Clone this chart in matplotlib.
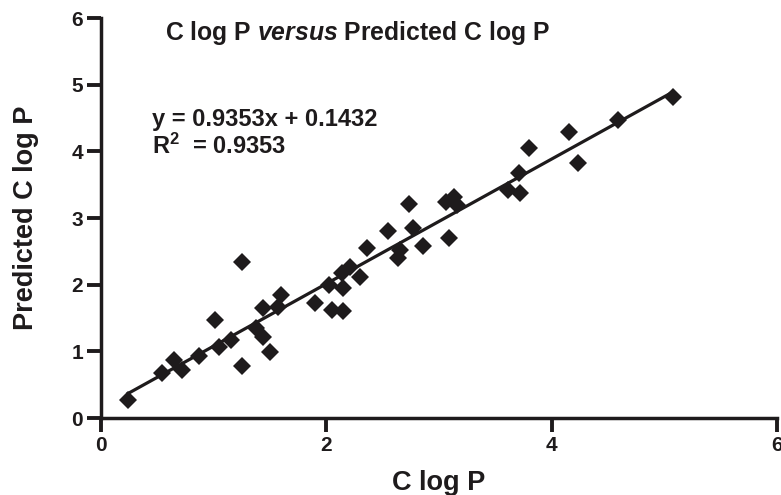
import matplotlib
matplotlib.use("Agg")
import matplotlib.pyplot as plt
import numpy as np

plt.rcParams['font.family'] = ['Liberation Sans', 'DejaVu Sans']
plt.rcParams['font.weight'] = 'bold'
plt.rcParams['mathtext.fontset'] = 'custom'
plt.rcParams['mathtext.rm'] = 'Liberation Sans:bold'
plt.rcParams['mathtext.it'] = 'Liberation Sans:italic:bold'
plt.rcParams['mathtext.bf'] = 'Liberation Sans:bold'

# Data
clogp = [0.24, 0.54, 0.65, 0.72, 0.87, 1.01, 1.05, 1.15, 1.25, 1.25,
         1.38, 1.44, 1.44, 1.50, 1.57, 1.60, 1.90, 2.02, 2.05, 2.14,
         2.15, 2.15, 2.21, 2.30, 2.36, 2.55, 2.64, 2.65, 2.73, 2.77,
         2.86, 3.06, 3.09, 3.13, 3.16, 3.61, 3.71, 3.72, 3.80, 4.15,
         4.23, 4.59, 5.08]
pred = [0.27, 0.67, 0.87, 0.72, 0.93, 1.47, 1.06, 1.17, 2.34, 0.78,
        1.35, 1.22, 1.65, 0.99, 1.67, 1.85, 1.72, 1.99, 1.62, 2.17,
        1.95, 1.60, 2.26, 2.11, 2.55, 2.80, 2.40, 2.52, 3.21, 2.85,
        2.58, 3.24, 2.70, 3.31, 3.19, 3.42, 3.67, 3.37, 4.05, 4.29,
        3.82, 4.47, 4.81]

slope = 0.9353
intercept = 0.1432
r2 = 0.9353

xticks = [0, 2, 4, 6]
xtick_labels = ['0', '2', '4', '6']
yticks = [0, 1, 2, 3, 4, 5, 6]
ytick_labels = ['0', '1', '2', '3', '4', '5', '6']

ink = '#1e1b1c'

fig = plt.figure(figsize=(7.81, 4.95), dpi=100)
W, H = 781, 495
x0, x1 = 101, 777
y0, y1 = 418, 18
ax = fig.add_axes([x0 / W, 1 - y0 / H, (x1 - x0) / W, (y0 - y1) / H])

ax.plot(clogp, pred, linestyle='none', marker='D', markersize=8.9,
        color=ink, markeredgewidth=0, zorder=3, clip_on=False)

xs = np.array([min(clogp), max(clogp)])
ax.plot(xs, slope * xs + intercept, color=ink, linewidth=2.3, zorder=2)

ax.set_xlim(0, 6)
ax.set_ylim(0, 6)
ax.set_xticks(xticks)
ax.set_xticklabels(xtick_labels, fontsize=15, fontweight='bold', color=ink)
ax.set_yticks(yticks)
ax.set_yticklabels(ytick_labels, fontsize=15, fontweight='bold', color=ink)
for s in ['top', 'right']:
    ax.spines[s].set_visible(False)
for s in ['left', 'bottom']:
    ax.spines[s].set_linewidth(2.5)
    ax.spines[s].set_color(ink)
ax.tick_params(axis='both', direction='out', length=10, width=2.8,
               color=ink, pad=3)

ax.set_xlabel('C log P', fontsize=19.5, fontweight='bold', color=ink, labelpad=11)
ax.set_ylabel('Predicted C log P', fontsize=19.5, fontweight='bold', color=ink, labelpad=23)

fig.text(165 / W, 1 - 33 / H, r'C log P $\it{versus}$ Predicted C log P',
         fontsize=17.8, fontweight='bold', color=ink, va='center', ha='left')

ax.text(0.45, 4.48, f'y = {slope}x + {intercept}', fontsize=17,
        fontweight='bold', color=ink, va='center', ha='left')
ax.text(0.45, 4.07, f'R$^{{2}}$  = {r2}', fontsize=17,
        fontweight='bold', color=ink, va='center', ha='left')

fig.savefig('out.png', dpi=100)
